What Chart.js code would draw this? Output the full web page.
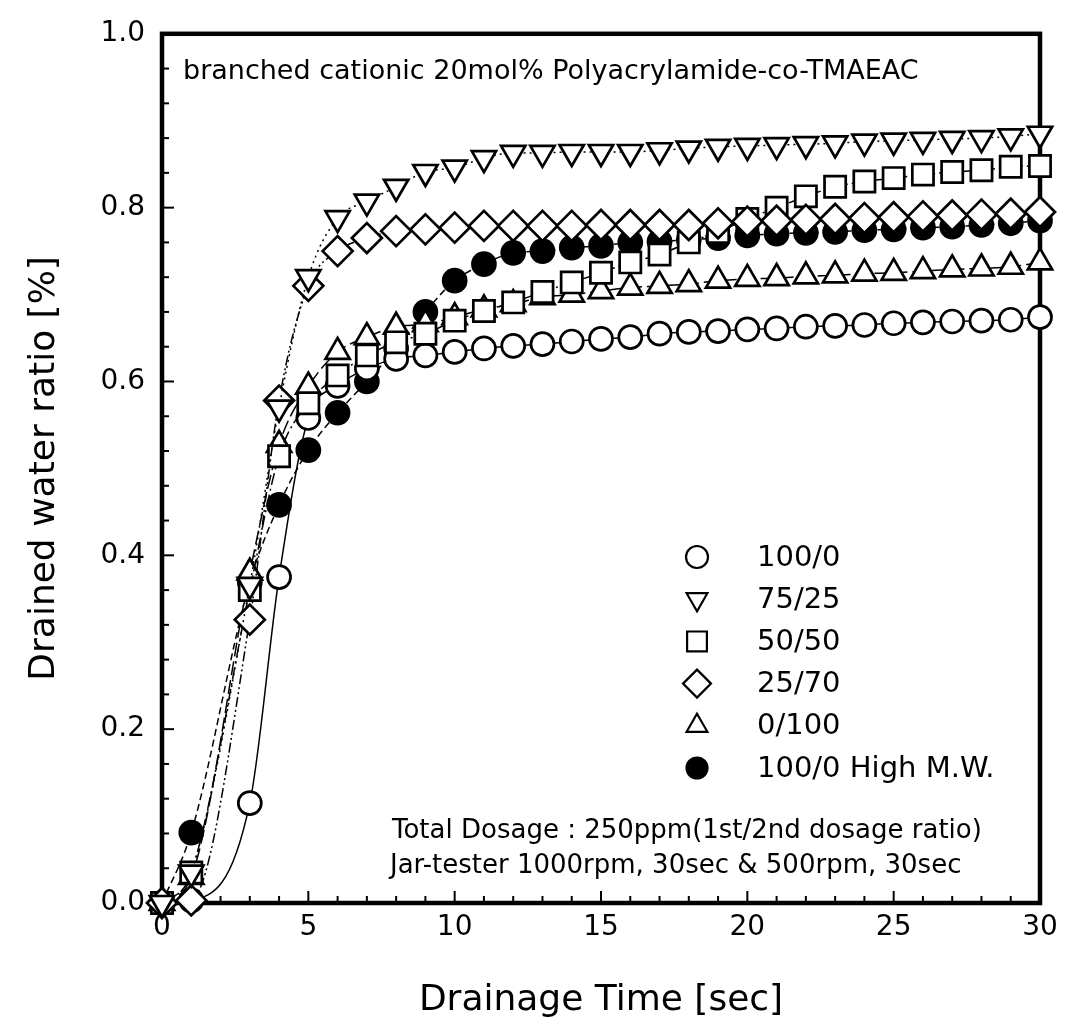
<!DOCTYPE html>
<html>
<head>
<meta charset="utf-8">
<script src="https://cdn.jsdelivr.net/npm/chart.js@4.4.1/dist/chart.umd.min.js"></script>
<style>
  html, body { margin: 0; padding: 0; background: #fff; }
</style>
</head>
<body>
<canvas id="grafico" width="1074" height="1035"></canvas>
<script>
// tiempos de drenaje [sec] (no hay medida en t=2)
const tiempos = [0, 1, 3, 4, 5, 6, 7, 8, 9, 10, 11, 12, 13, 14, 15, 16, 17, 18, 19, 20, 21, 22, 23, 24, 25, 26, 27, 28, 29, 30];

// 1st/2nd dosage ratio
const serie100_0 = [0, 0.003, 0.115, 0.375, 0.558, 0.595, 0.615, 0.626, 0.630, 0.634, 0.638, 0.641, 0.643, 0.646, 0.649, 0.651, 0.655, 0.657, 0.658, 0.660, 0.661, 0.663, 0.664, 0.665, 0.667, 0.668, 0.669, 0.670, 0.671, 0.674];
const serie75_25 = [0, 0.035, 0.366, 0.570, 0.720, 0.788, 0.807, 0.824, 0.841, 0.846, 0.857, 0.863, 0.863, 0.864, 0.864, 0.864, 0.866, 0.868, 0.870, 0.871, 0.872, 0.873, 0.874, 0.876, 0.877, 0.878, 0.879, 0.880, 0.882, 0.885];
const serie50_50 = [0, 0.035, 0.360, 0.514, 0.575, 0.607, 0.630, 0.645, 0.655, 0.670, 0.681, 0.691, 0.703, 0.714, 0.725, 0.737, 0.746, 0.760, 0.772, 0.787, 0.800, 0.813, 0.824, 0.830, 0.834, 0.838, 0.841, 0.843, 0.847, 0.848];
const serie25_70 = [0, 0.003, 0.326, 0.578, 0.710, 0.750, 0.765, 0.773, 0.775, 0.777, 0.779, 0.779, 0.779, 0.779, 0.780, 0.780, 0.780, 0.780, 0.782, 0.784, 0.785, 0.786, 0.787, 0.788, 0.789, 0.790, 0.791, 0.792, 0.793, 0.795];
const serie0_100 = [0, 0.030, 0.380, 0.527, 0.594, 0.634, 0.651, 0.663, 0.666, 0.674, 0.683, 0.689, 0.697, 0.700, 0.704, 0.708, 0.710, 0.712, 0.716, 0.718, 0.719, 0.721, 0.722, 0.724, 0.725, 0.727, 0.729, 0.730, 0.732, 0.737];
const serieHighMW = [0, 0.081, 0.369, 0.458, 0.521, 0.564, 0.600, 0.638, 0.680, 0.716, 0.735, 0.748, 0.750, 0.754, 0.756, 0.760, 0.761, 0.763, 0.765, 0.768, 0.770, 0.771, 0.772, 0.774, 0.775, 0.777, 0.778, 0.780, 0.782, 0.785];

const etiquetas = ['100/0', '75/25', '50/50', '25/70', '0/100', '100/0 High M.W.'];
const ticksX = [0, 5, 10, 15, 20, 25, 30];
const ticksY = [0, 0.2, 0.4, 0.6, 0.8, 1.0];

const FUENTE = "'DejaVu Sans', 'Liberation Sans', Arial, sans-serif";

function puntos(valores) {
    return tiempos.map((t, i) => ({ x: t, y: valores[i] }));
}

// estilo de cada serie: marcador, tamaño, trazo
const estilos = [
    { datos: serie100_0, punto: 'circle', rot: 0, radio: 11.5, relleno: '#fff', dash: [], orden: 5, radioLeyenda: 11 },
    { datos: serie75_25, punto: 'triangle', rot: 180, radio: 14, relleno: '#fff', dash: [2, 4], orden: 1, radioLeyenda: 12 },
    { datos: serie50_50, punto: 'rect', rot: 0, radio: 15, relleno: '#fff', dash: [12, 4, 2, 4], orden: 3, radioLeyenda: 14 },
    { datos: serie25_70, punto: 'rectRot', rot: 0, radio: 15, relleno: '#fff', dash: [10, 3, 2, 3, 2, 3], orden: 2, radioLeyenda: 14 },
    { datos: serie0_100, punto: 'triangle', rot: 0, radio: 14, relleno: '#fff', dash: [14, 5], orden: 4, radioLeyenda: 12 },
    { datos: serieHighMW, punto: 'circle', rot: 0, radio: 11.5, relleno: '#000', dash: [7, 4], orden: 6, radioLeyenda: 10.5 }
];

const datasets = estilos.map((e, i) => ({
    label: etiquetas[i],
    data: puntos(e.datos),
    borderColor: '#000',
    borderWidth: 1.5,
    borderDash: e.dash,
    backgroundColor: e.relleno,
    pointStyle: e.punto,
    pointRotation: e.rot,
    pointRadius: e.radio,
    pointBorderWidth: 2.7,
    pointBorderColor: '#000',
    pointBackgroundColor: e.relleno,
    cubicInterpolationMode: 'monotone',
    fill: false,
    clip: false,
    order: e.orden
}));

// marco, marcas hacia dentro, textos y leyenda
const marcoYTexto = {
    id: 'marcoYTexto',
    beforeDatasetsDraw(chart) {
        const { ctx, chartArea: a, scales } = chart;
        ctx.save();
        ctx.strokeStyle = '#000';
        // marcas menores y mayores
        ctx.lineWidth = 2;
        for (let t = 0; t <= 30; t++) {
            const px = scales.x.getPixelForValue(t);
            const largo = t % 5 === 0 ? 12 : 7;
            ctx.beginPath();
            ctx.moveTo(px, a.bottom);
            ctx.lineTo(px, a.bottom - largo);
            ctx.stroke();
        }
        for (let k = 0; k <= 25; k++) {
            const py = scales.y.getPixelForValue(k * 0.04);
            const largo = k % 5 === 0 ? 12 : 7;
            ctx.beginPath();
            ctx.moveTo(a.left, py);
            ctx.lineTo(a.left + largo, py);
            ctx.stroke();
        }
        ctx.lineWidth = 4.5;
        ctx.strokeRect(a.left, a.top, a.right - a.left, a.bottom - a.top);
        ctx.restore();
    },
    afterDatasetsDraw(chart) {
        const { ctx } = chart;
        ctx.save();
        ctx.fillStyle = '#000';
        ctx.textBaseline = 'middle';
        ctx.textAlign = 'left';
        ctx.font = '27px ' + FUENTE;
        ctx.fillText('branched cationic 20mol% Polyacrylamide-co-TMAEAC', 183, 72);
        ctx.font = '26px ' + FUENTE;
        ctx.fillText('Total Dosage : 250ppm(1st/2nd dosage ratio)', 392, 831);
        ctx.fillText('Jar-tester 1000rpm, 30sec & 500rpm, 30sec', 390, 866);

        // leyenda
        const xMarca = 697, xTexto = 757, y0 = 557, paso = 42.2;
        estilos.forEach((e, i) => {
            const y = y0 + i * paso;
            ctx.fillStyle = e.relleno;
            ctx.strokeStyle = '#000';
            ctx.lineWidth = 2.2;
            ctx.setLineDash([]);
            if (Chart.helpers && Chart.helpers.drawPoint) {
                Chart.helpers.drawPoint(ctx, { pointStyle: e.punto, rotation: e.rot, radius: e.radioLeyenda, borderWidth: 2.2 }, xMarca, y);
            }
            ctx.fillStyle = '#000';
            ctx.font = '29px ' + FUENTE;
            ctx.fillText(etiquetas[i], xTexto, y + 1);
        });
        ctx.restore();
    }
};

const ctx = document.getElementById('grafico').getContext('2d');
new Chart(ctx, {
    type: 'line',
    data: { datasets },
    options: {
        responsive: false,
        animation: false,
        layout: { padding: { top: 28, right: 34, left: 0, bottom: 0 } },
        plugins: { legend: { display: false }, tooltip: { enabled: false } },
        scales: {
            x: {
                type: 'linear', min: 0, max: 30,
                afterBuildTicks: s => { s.ticks = ticksX.map(v => ({ value: v })); },
                ticks: { color: '#000', font: { family: FUENTE, size: 28 }, padding: 8, maxRotation: 0 },
                grid: { display: false, drawTicks: false },
                border: { display: false },
                title: { display: true, text: 'Drainage Time [sec]', color: '#000', font: { family: FUENTE, size: 36 }, padding: { top: 0, bottom: 13 } },
                afterFit: s => { s.height = 1035 - 903; }
            },
            y: {
                type: 'linear', min: 0, max: 1,
                afterBuildTicks: s => { s.ticks = ticksY.map(v => ({ value: v })); },
                ticks: { color: '#000', font: { family: FUENTE, size: 28 }, padding: 17, callback: v => v.toFixed(1) },
                grid: { display: false, drawTicks: false },
                border: { display: false },
                title: { display: true, text: 'Drained water ratio [%]', color: '#000', font: { family: FUENTE, size: 36 }, padding: { top: 23, bottom: 0 } },
                afterFit: s => { s.width = 162; }
            }
        }
    },
    plugins: [marcoYTexto]
});
</script>
</body>
</html>
